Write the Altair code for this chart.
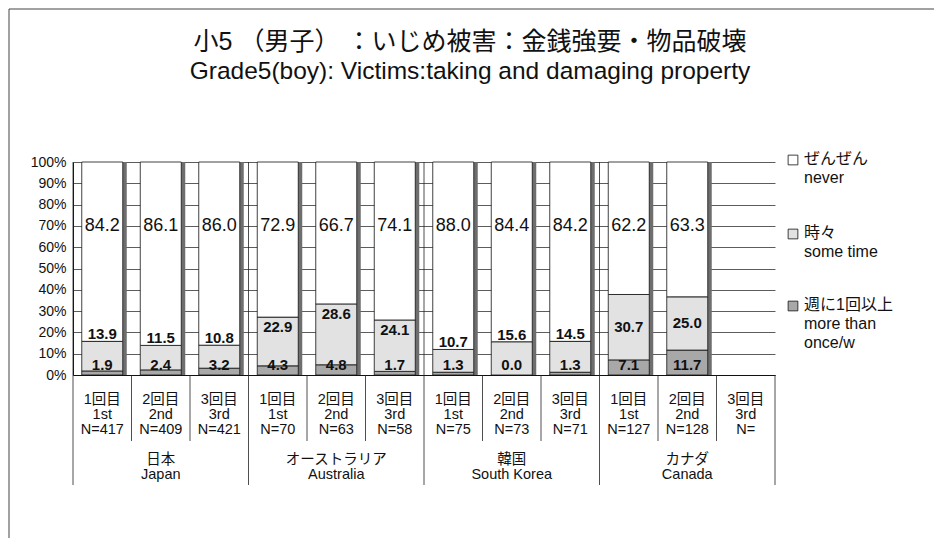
import altair as alt
import pandas as pd

# ---------------- data ----------------
countries_jp = ["日本", "オーストラリア", "韓国", "カナダ"]
countries_en = ["Japan", "Australia", "South Korea", "Canada"]
waves_jp = ["1回目", "2回目", "3回目"]
waves_en = ["1st", "2nd", "3rd"]
n_values = ["417", "409", "421", "70", "63", "58", "75", "73", "71", "127", "128", ""]
weekly = [1.9, 2.4, 3.2, 4.3, 4.8, 1.7, 1.3, 0.0, 1.3, 7.1, 11.7, None]
sometime = [13.9, 11.5, 10.8, 22.9, 28.6, 24.1, 10.7, 15.6, 14.5, 30.7, 25.0, None]
never = [84.2, 86.1, 86.0, 72.9, 66.7, 74.1, 88.0, 84.4, 84.2, 62.2, 63.3, None]
series_en = ["more than once/w", "some time", "never"]
series_colors = ["#a8a8a8", "#e2e2e2", "#ffffff"]
legend_order = ["never", "some time", "more than once/w"]
legend_texts = ["ぜんぜん\nnever", "時々\nsome time", "週に1回以上\nmore than\nonce/w"]
title_lines = ["小5 （男子） ：いじめ被害：金銭強要・物品破壊",
               "Grade5(boy): Victims:taking and damaging property"]

# ---------------- layout ----------------
FONT = "Liberation Sans, Noto Sans CJK JP, sans-serif"
W, H = 702, 213
PAD_L, PAD_T = 65, 154
PAD_R = 926 - PAD_L - W
PAD_B = 530 - PAD_T - H

slots = [f"{waves_jp[i % 3]}|{waves_en[i % 3]}|N={n_values[i]}" for i in range(12)]

seg_rows, lab_rows, shadow_rows = [], [], []
for i, key in enumerate(slots):
    vals = [weekly[i], sometime[i], never[i]]
    if vals[0] is None:
        continue
    total = sum(vals)
    shadow_rows.append({"slot": key, "y0": 0.0, "y1": 100.0})
    y0 = 0.0
    bounds = []
    for s, v in zip(series_en, vals):
        y1 = y0 + v * 100.0 / total
        seg_rows.append({"slot": key, "series": s, "y0": y0, "y1": y1})
        bounds.append((y0, y1))
        y0 = y1
    # label positions derived from the segments
    lab_rows.append({"slot": key, "ly": 4.8, "t": f"{vals[0]:.1f}", "kind": "small"})
    b0, b1 = bounds[1]
    if b1 < 20:
        ly = b1 + 3.3
    elif b0 < 6:
        ly = b1 - 4.8
    else:
        ly = (b0 + b1) / 2
    lab_rows.append({"slot": key, "ly": ly, "t": f"{vals[1]:.1f}", "kind": "small"})
    lab_rows.append({"slot": key, "ly": 70.0, "t": f"{vals[2]:.1f}", "kind": "big"})

seg_df = pd.DataFrame(seg_rows)
lab_df = pd.DataFrame(lab_rows)
shadow_df = pd.DataFrame(shadow_rows)

xscale = alt.Scale(domain=slots, paddingInner=0, paddingOuter=0)
xaxis = alt.Axis(title=None, labelExpr="split(datum.label, '|')", labelAngle=0,
                 ticks=False, domain=True, domainColor="#111", domainWidth=1,
                 labelFontSize=14.5, labelLineHeight=15, labelPadding=17,
                 labelFont=FONT, labelColor="#111", grid=False, labelAlign="center")
yscale = alt.Scale(domain=[0, 100], nice=False)
yaxis = alt.Axis(title=None, values=list(range(0, 101, 10)), labelExpr="datum.value + '%'",
                 grid=True, gridColor="#333", gridWidth=0.8, ticks=False,
                 domain=True, domainColor="#111", labelFontSize=14, labelPadding=7,
                 labelFont=FONT, labelColor="#111")
cscale = alt.Scale(domain=series_en, range=series_colors)


def X(**kw):
    return alt.X("slot:N", sort=slots, scale=xscale, axis=xaxis, **kw)


shadow = alt.Chart(shadow_df).mark_bar(width=41, xOffset=4, color="#6e6e6e").encode(
    x=X(), y=alt.Y("y0:Q", scale=yscale, axis=yaxis), y2="y1:Q")

bars = alt.Chart(seg_df).mark_bar(width=41, stroke="#111", strokeWidth=0.8).encode(
    x=X(), y=alt.Y("y0:Q", scale=yscale, axis=yaxis), y2="y1:Q",
    fill=alt.Color("series:N", scale=cscale, legend=None))

big_labels = alt.Chart(lab_df).transform_filter("datum.kind == 'big'").mark_text(
    fontSize=18, font=FONT, color="#111").encode(
    x=X(), y=alt.Y("ly:Q", scale=yscale, axis=yaxis), text="t:N")

small_labels = alt.Chart(lab_df).transform_filter("datum.kind == 'small'").mark_text(
    fontSize=15, font=FONT, fontWeight="bold", color="#111").encode(
    x=X(), y=alt.Y("ly:Q", scale=yscale, axis=yaxis), text="t:N")

short_div = alt.Chart(pd.DataFrame({"slot": [s for i, s in enumerate(slots) if i % 3]})).mark_rule(
    color="#222", strokeWidth=0.8).encode(x=X(bandPosition=0), y=alt.value(H), y2=alt.value(H + 66))
long_div = alt.Chart(pd.DataFrame({"slot": [s for i, s in enumerate(slots) if i % 3 == 0]})).mark_rule(
    color="#222", strokeWidth=0.8).encode(x=X(bandPosition=0), y=alt.value(0), y2=alt.value(H + 110))
end_div = alt.Chart(pd.DataFrame({"slot": [slots[-1]]})).mark_rule(
    color="#222", strokeWidth=0.8).encode(x=X(bandPosition=1), y=alt.value(H), y2=alt.value(H + 110))

grp_df = pd.DataFrame({"slot": [slots[g * 3 + 1] for g in range(4)],
                       "t": [f"{countries_jp[g]}\n{countries_en[g]}" for g in range(4)]})
groups = alt.Chart(grp_df).mark_text(lineBreak="\n", baseline="top", fontSize=14.5, lineHeight=15,
                                     font=FONT, color="#111").encode(
    x=X(), y=alt.value(H + 78), text="t:N")

title1 = alt.Chart(pd.DataFrame({"t": [title_lines[0]]})).mark_text(
    fontSize=25, font=FONT, color="#111").encode(text="t:N", x=alt.value(397), y=alt.value(-120))
title2 = alt.Chart(pd.DataFrame({"t": [title_lines[1]]})).mark_text(
    fontSize=24.5, font=FONT, color="#111").encode(text="t:N", x=alt.value(397), y=alt.value(-90))

legend_layers = []
leg_y = [-2, 72, 144]
for i, (s, txt) in enumerate(zip(legend_order, legend_texts)):
    d = pd.DataFrame({"series": [s], "t": [txt]})
    legend_layers.append(alt.Chart(d).mark_square(size=95, filled=True, stroke="#111",
                                                   strokeWidth=0.8, opacity=1).encode(
        x=alt.value(720), y=alt.value(leg_y[i]),
        fill=alt.Color("series:N", scale=cscale, legend=None)))
    legend_layers.append(alt.Chart(d).mark_text(align="left", baseline="top", lineBreak="\n",
                                                fontSize=16, lineHeight=19, font=FONT,
                                                color="#111").encode(
        x=alt.value(731), y=alt.value(leg_y[i] - 9), text="t:N"))

frame_left = alt.Chart(pd.DataFrame({"a": [0]})).mark_rule(color="#444", strokeWidth=1).encode(
    x=alt.value(-64), y=alt.value(-153), y2=alt.value(H + PAD_B))
frame_top = alt.Chart(pd.DataFrame({"a": [0]})).mark_rule(color="#444", strokeWidth=1).encode(
    x=alt.value(-64), x2=alt.value(W + PAD_R), y=alt.value(-153))

chart = alt.layer(shadow, bars, big_labels, small_labels, short_div, long_div, end_div,
                  groups, title1, title2, frame_left, frame_top, *legend_layers).properties(
    width=W, height=H,
    padding={"left": PAD_L, "top": PAD_T, "right": PAD_R, "bottom": PAD_B},
    autosize=alt.AutoSizeParams(type="none"),
    background="white",
).configure_view(stroke=None)

chart.save("out.html", embed_options={"renderer": "svg", "actions": False})
